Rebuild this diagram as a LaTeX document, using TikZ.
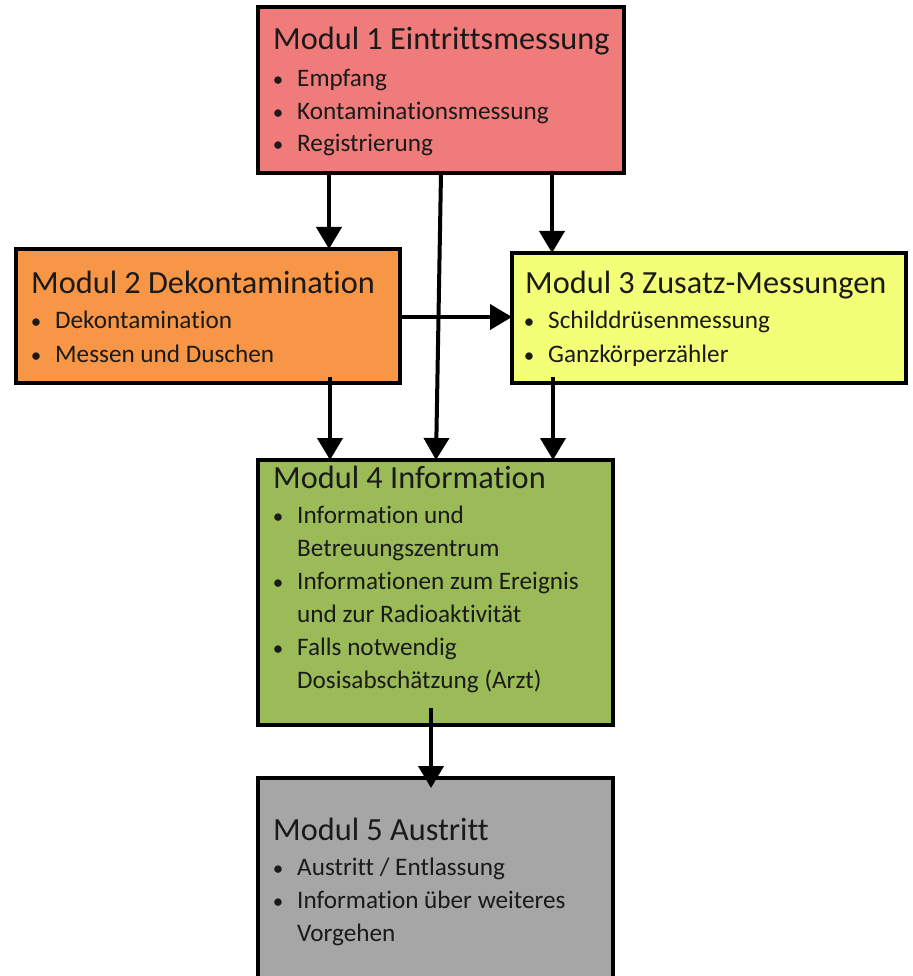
\documentclass[tikz,border=0pt]{standalone}
\usepackage{fontspec}
\setmainfont{Carlito}[RawFeature={-liga;-clig;-dlig}]
\usetikzlibrary{arrows.meta,calc}
\definecolor{cred}{HTML}{F07B7B}
\definecolor{corange}{HTML}{F79646}
\definecolor{cyellow}{HTML}{F4FF78}
\definecolor{cgreen}{HTML}{9BBB59}
\definecolor{cgray}{HTML}{A6A6A6}
\definecolor{ctext}{HTML}{1A1A1A}
\newcommand\bitem[4]{%
  \node[bul] (#1b) at (#2-19,#3) {\textbullet};
  \node[itm] (#1) at (#2,#3) {#4};}
\newcommand\citem[4]{%
  \node[itm] (#1) at (#2,#3) {#4};}
\begin{document}
\begin{tikzpicture}[x=1pt,y=-1pt,
  box/.style={draw=black,line width=3.5pt,anchor=north west,inner sep=0pt,outer sep=0pt},
  ttl/.style={anchor=base west,inner sep=0pt,text=ctext,font=\fontsize{32.3}{36}\selectfont},
  itm/.style={anchor=base west,inner sep=0pt,text=ctext,font=\fontsize{25.2}{30}\selectfont},
  bul/.style={anchor=base,inner sep=0pt,text=ctext,font=\fontsize{21}{30}\selectfont},
  arr/.style={line width=4pt,-{Triangle[width=25pt,length=22pt]}}]
\clip (0,0) rectangle (912,976);
\fill[white] (0,0) rectangle (912,976);
% boxes
\node[box,fill=cred,minimum width=366pt,minimum height=166pt] (b1) at (258,7) {};
\node[box,fill=corange,minimum width=384pt,minimum height=134pt] (b2) at (16,249) {};
\node[box,fill=cyellow,minimum width=394pt,minimum height=130pt] (b3) at (512,253) {};
\node[box,fill=cgreen,minimum width=355pt,minimum height=265pt] (b4) at (258,460) {};
\node[box,fill=cgray,minimum width=355pt,minimum height=260pt] (b5) at (258,778) {};
% arrows
\draw[arr] (329,0 |- b1.south) -- (329,0 |- b2.north);
\draw[arr] (441,0 |- b1.south) -- (436,0 |- b4.north);
\draw[arr] (552,0 |- b1.south) -- (552,0 |- b3.north);
\draw[arr] (b2.east |- 0,317) -- (b3.west |- 0,317);
\draw[arr] ($(330,0 |- b2.south)+(0,-6)$) -- (330,0 |- b4.north);
\draw[arr] ($(553,0 |- b3.south)+(0,-6)$) -- (553,0 |- b4.north);
\draw[arr] ($(431,0 |- b4.south)+(0,-17)$) -- ($(431,0 |- b5.north)+(0,10)$);
% box 1
\node[ttl] (t1) at (273,50) {Modul 1 Eintrittsmessung};
\bitem{i11}{297}{87}{Empfang}
\bitem{i12}{297}{120}{Kontaminationsmessung}
\bitem{i13}{297}{152}{Registrierung}
% box 2
\node[ttl] (t2) at (31,293) {Modul 2 Dekontamination};
\bitem{i21}{55}{328}{Dekontamination}
\bitem{i22}{55}{362}{Messen und Duschen}
% box 3
\node[ttl] (t3) at (525,293) {Modul 3 Zusatz-Messungen};
\bitem{i31}{548}{328}{Schilddrüsenmessung}
\bitem{i32}{548}{362}{Ganzkörperzähler}
% box 4
\node[ttl] (t4) at (273,488) {Modul 4 Information};
\bitem{i41}{297}{523}{Information und}
\citem{i42}{297}{556}{Betreuungszentrum}
\bitem{i43}{297}{589}{Informationen zum Ereignis}
\citem{i44}{297}{622}{und zur Radioaktivität}
\bitem{i45}{297}{655}{Falls notwendig}
\citem{i46}{297}{688}{Dosisabschätzung (Arzt)}
% box 5
\node[ttl] (t5) at (273,840) {Modul 5 Austritt};
\bitem{i51}{297}{875}{Austritt / Entlassung}
\bitem{i52}{297}{908}{Information über weiteres}
\citem{i53}{297}{941}{Vorgehen}
\end{tikzpicture}
\end{document}
